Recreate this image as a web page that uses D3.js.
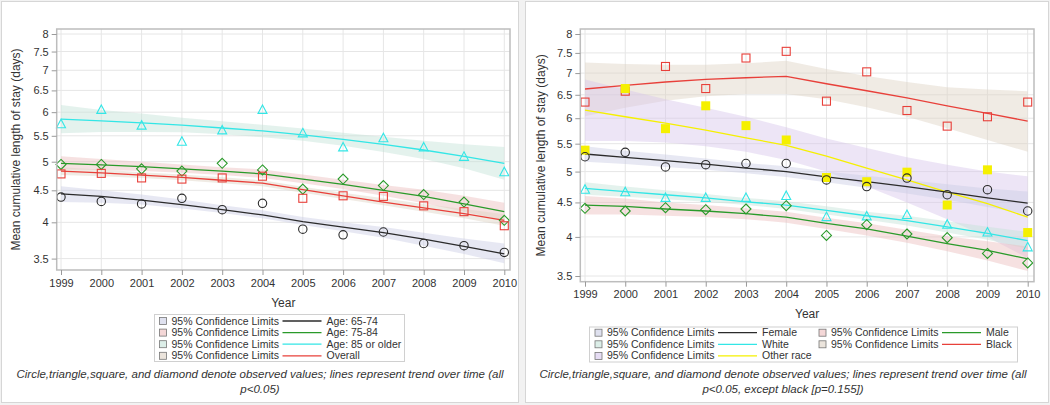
<!DOCTYPE html>
<html><head><meta charset="utf-8">
<script src="https://cdn.jsdelivr.net/npm/d3@7"></script>
<style>
body{margin:0;background:#fff;}
text{font-family:"Liberation Sans",Arial,sans-serif;fill:#333;}
</style></head>
<body><svg id="c" width="1050" height="405"></svg>
<script>
const years = [1999,2000,2001,2002,2003,2004,2005,2006,2007,2008,2009,2010];
const yTicks = [3.5,4,4.5,5,5.5,6,6.5,7,7.5,8];

// ---- Left panel: age groups ----
const age6574Obs = [4.39,4.32,4.28,4.37,4.19,4.29,3.90,3.82,3.86,3.70,3.67,3.58];
const age6574Fit = [4.44,4.40,4.34,4.27,4.19,4.11,4.01,3.93,3.85,3.76,3.66,3.56];
const age6574Lo  = [4.31,4.30,4.27,4.21,4.14,4.06,3.96,3.87,3.78,3.67,3.56,3.44];
const age6574Hi  = [4.57,4.50,4.43,4.35,4.26,4.18,4.08,4.00,3.93,3.85,3.77,3.70];

const age7584Obs = [4.95,4.95,4.87,4.83,4.97,4.85,4.52,4.69,4.58,4.43,4.31,4.03];
const age7584Fit = [4.97,4.94,4.91,4.87,4.83,4.78,4.69,4.60,4.50,4.40,4.28,4.16];
const age7584Lo  = [4.86,4.85,4.83,4.80,4.76,4.71,4.62,4.52,4.41,4.29,4.16,4.03];
const age7584Hi  = [5.10,5.05,5.00,4.95,4.90,4.86,4.77,4.68,4.59,4.51,4.41,4.30];

const age85Obs = [5.74,6.05,5.71,5.38,5.61,6.05,5.55,5.27,5.45,5.27,5.09,4.81];
const age85Fit = [5.85,5.81,5.77,5.72,5.66,5.60,5.52,5.43,5.33,5.22,5.10,4.97];
const age85Lo  = [5.55,5.58,5.58,5.57,5.53,5.47,5.40,5.30,5.18,5.05,4.88,4.68];
const age85Hi  = [6.16,6.05,5.97,5.88,5.80,5.73,5.65,5.56,5.48,5.40,5.33,5.28];

const overallObs = [4.78,4.79,4.71,4.69,4.71,4.74,4.37,4.41,4.40,4.25,4.16,3.95];
const overallFit = [4.83,4.80,4.76,4.72,4.67,4.62,4.51,4.41,4.31,4.22,4.13,4.03];
const overallLo  = [4.76,4.74,4.71,4.67,4.62,4.57,4.46,4.36,4.26,4.16,4.06,3.95];
const overallHi  = [4.90,4.86,4.81,4.77,4.72,4.67,4.56,4.46,4.37,4.28,4.20,4.12];

// ---- Right panel: sex and race ----
const femaleObs = [5.26,5.34,5.08,5.12,5.14,5.14,4.86,4.75,4.89,4.62,4.70,4.37];
const femaleFit = [5.31,5.25,5.19,5.13,5.06,5.00,4.91,4.83,4.75,4.66,4.57,4.49];
const femaleLo  = [5.17,5.13,5.08,5.03,4.97,4.91,4.82,4.73,4.64,4.54,4.43,4.32];
const femaleHi  = [5.45,5.37,5.30,5.23,5.15,5.09,5.00,4.93,4.86,4.79,4.72,4.67];

const maleObs = [4.41,4.37,4.42,4.39,4.40,4.45,4.02,4.17,4.04,3.99,3.78,3.66];
const maleFit = [4.46,4.44,4.40,4.37,4.33,4.28,4.19,4.11,4.01,3.91,3.82,3.71];
const maleLo  = [4.32,4.32,4.30,4.28,4.25,4.20,4.11,4.02,3.92,3.81,3.69,3.56];
const maleHi  = [4.60,4.56,4.50,4.46,4.41,4.36,4.27,4.19,4.10,4.01,3.94,3.87];

const whiteObs = [4.70,4.66,4.57,4.57,4.57,4.60,4.28,4.29,4.31,4.17,4.06,3.86];
const whiteFit = [4.72,4.67,4.62,4.57,4.51,4.46,4.38,4.30,4.23,4.14,4.05,3.95];
const whiteLo  = [4.62,4.59,4.55,4.51,4.46,4.40,4.32,4.24,4.16,4.06,3.96,3.84];
const whiteHi  = [4.82,4.75,4.69,4.63,4.57,4.52,4.44,4.36,4.30,4.22,4.14,4.07];

const blackObs = [6.34,6.58,7.16,6.64,7.37,7.54,6.36,7.03,6.16,5.84,6.03,6.34];
const blackFit = [6.63,6.71,6.79,6.85,6.89,6.92,6.75,6.59,6.43,6.26,6.10,5.94];
const blackLo  = [6.04,6.22,6.37,6.47,6.52,6.52,6.40,6.23,6.03,5.80,5.57,5.35];
const blackHi  = [7.26,7.22,7.20,7.20,7.24,7.30,7.10,6.93,6.79,6.67,6.62,6.58];

const otherObs = [5.38,6.64,5.79,6.26,5.85,5.57,4.90,4.83,4.99,4.46,5.03,4.06];
const otherFit = [6.17,6.03,5.90,5.76,5.61,5.47,5.27,5.06,4.86,4.66,4.48,4.28];
const otherLo  = [5.55,5.55,5.52,5.45,5.35,5.20,5.00,4.75,4.50,4.25,4.00,3.72];
const otherHi  = [6.85,6.62,6.40,6.22,6.03,5.82,5.60,5.42,5.25,5.12,5.00,4.92];

const leftLegend = ["Age: 65-74","Age: 75-84","Age: 85 or older","Overall"];
const rightLegend = ["Female","Male","White","Black","Other race"];
const ciLabel = "95% Confidence Limits";
const xTitle = "Year";
const yTitle = "Mean cumulative length of stay (days)";
const captionLeft = ["Circle,triangle,square, and diamond denote observed values; lines represent trend over time (all","p<0.05)"];
const captionRight = ["Circle,triangle,square, and diamond denote observed values; lines represent trend over time (all","p<0.05, except black [p=0.155])"];

// colours
const C = {
  dark:"#2b2b2b", green:"#2a9a2a", cyan:"#33e6e6", red:"#e8403a", yellow:"#f5f000",
  bBlue:"#c9cde4", bPink:"#ecbcbc", bGreen:"#c4e2d8", bBeige:"#ddd2c4", bLav:"#d6c6ec"
};
const bandOpacity = 0.45;

const svg = d3.select("#c");
svg.append("rect").attr("x",0).attr("y",0).attr("width",1050).attr("height",405).attr("fill","#f2f2f2");
[[1,1,517,401],[525,1,523,401]].forEach(p=>{
  svg.append("rect").attr("x",p[0]+0.5).attr("y",p[1]+0.5).attr("width",p[2]).attr("height",p[3])
    .attr("fill","#fff").attr("stroke","#d6d6d6");
});

function marker(g, type, x, y, color){
  if(type==="circle"){
    g.append("circle").attr("cx",x).attr("cy",y).attr("r",4.2).attr("fill","none").attr("stroke",color).attr("stroke-width",1.1);
  } else if(type==="tri"){
    g.append("path").attr("d",`M${x},${y-5}L${x+4.5},${y+3.5}L${x-4.5},${y+3.5}Z`).attr("fill","none").attr("stroke",color).attr("stroke-width",1.1);
  } else if(type==="sq"){
    g.append("rect").attr("x",x-4).attr("y",y-4).attr("width",8).attr("height",8).attr("fill","none").attr("stroke",color).attr("stroke-width",1.1);
  } else if(type==="dia"){
    g.append("path").attr("d",`M${x},${y-5}L${x+5},${y}L${x},${y+5}L${x-5},${y}Z`).attr("fill","none").attr("stroke",color).attr("stroke-width",1.1);
  } else if(type==="fsq"){
    g.append("rect").attr("x",x-4.5).attr("y",y-4.5).attr("width",9).attr("height",9).attr("fill",color);
  }
}

function panel(cfg){
  const g = svg.append("g");
  const x = d3.scaleLinear().domain([1999,2010]).range(cfg.xr);
  const y = d3.scaleLog().domain([3.5,8]).range(cfg.yr);
  const f = cfg.frame;
  g.selectAll(".gy").data(yTicks).join("line").attr("x1",f[0]).attr("x2",f[2])
    .attr("y1",d=>y(d)).attr("y2",d=>y(d)).attr("stroke","#e6e6e6");
  g.selectAll(".gx").data(years).join("line").attr("y1",f[1]).attr("y2",f[3])
    .attr("x1",d=>x(d)).attr("x2",d=>x(d)).attr("stroke","#e6e6e6");
  const area = d3.area().x((d,i)=>x(years[i])).y0(d=>y(d[0])).y1(d=>y(d[1]));
  cfg.series.forEach(s=>{
    g.append("path").datum(s.lo.map((v,i)=>[v,s.hi[i]])).attr("d",area)
      .attr("fill",s.band).attr("fill-opacity",bandOpacity);
  });
  const line = d3.line().x((d,i)=>x(years[i])).y(d=>y(d));
  cfg.series.forEach(s=>{
    g.append("path").datum(s.fit).attr("d",line).attr("fill","none").attr("stroke",s.color).attr("stroke-width",1.3);
  });
  cfg.series.forEach(s=>{
    s.obs.forEach((v,i)=>marker(g,s.marker,x(years[i]),y(v),s.color));
  });
  g.append("rect").attr("x",f[0]).attr("y",f[1]).attr("width",f[2]-f[0]).attr("height",f[3]-f[1])
    .attr("fill","none").attr("stroke","#bdbdbd").attr("stroke-width",1.5);
  const ax = g.append("g").attr("transform",`translate(0,${f[3]})`)
    .call(d3.axisBottom(x).tickValues(years).tickFormat(d3.format("d")).tickSize(5).tickPadding(4));
  const ay = g.append("g").attr("transform",`translate(${f[0]},0)`)
    .call(d3.axisLeft(y).tickValues(yTicks).tickFormat(d=>String(d)).tickSize(5).tickPadding(3));
  [ax,ay].forEach(a=>{
    a.select(".domain").remove();
    a.selectAll("line").attr("stroke","#9a9a9a");
    a.selectAll("text").style("font-size","11px").attr("fill","#333");
  });
  g.append("text").attr("x",(f[0]+f[2])/2).attr("y",cfg.xTitleY).attr("text-anchor","middle")
    .style("font-size","12px").text(xTitle);
  g.append("text").attr("transform",`translate(${cfg.yTitleX},${(f[1]+f[3])/2}) rotate(-90)`)
    .attr("text-anchor","middle").style("font-size","12px").text(yTitle);
  return g;
}

const leftSeries = [
  {obs:age6574Obs,fit:age6574Fit,lo:age6574Lo,hi:age6574Hi,color:C.dark,band:C.bBlue,marker:"circle"},
  {obs:age7584Obs,fit:age7584Fit,lo:age7584Lo,hi:age7584Hi,color:C.green,band:C.bPink,marker:"dia"},
  {obs:age85Obs,fit:age85Fit,lo:age85Lo,hi:age85Hi,color:C.cyan,band:C.bGreen,marker:"tri"},
  {obs:overallObs,fit:overallFit,lo:overallLo,hi:overallHi,color:C.red,band:C.bBeige,marker:"sq"}
];
panel({xr:[61,504.3], yr:[258.6,34], frame:[56.7,29,510,270], series:leftSeries, xTitleY:307, yTitleX:20});

const rightSeries = [
  {obs:blackObs,fit:blackFit,lo:blackLo,hi:blackHi,color:C.red,band:C.bBeige,marker:"sq"},
  {obs:otherObs,fit:otherFit,lo:otherLo,hi:otherHi,color:C.yellow,band:C.bLav,marker:"fsq"},
  {obs:femaleObs,fit:femaleFit,lo:femaleLo,hi:femaleHi,color:C.dark,band:C.bBlue,marker:"circle"},
  {obs:whiteObs,fit:whiteFit,lo:whiteLo,hi:whiteHi,color:C.cyan,band:C.bGreen,marker:"tri"},
  {obs:maleObs,fit:maleFit,lo:maleLo,hi:maleHi,color:C.green,band:C.bPink,marker:"dia"}
];
panel({xr:[585,1027.7], yr:[276,34], frame:[580.3,29,1034,281.7], series:rightSeries, xTitleY:318, yTitleX:545});

function legendItem(g, x, y, label, color, band){
  g.append("rect").attr("x",x).attr("y",y-3.5).attr("width",7).attr("height",7)
    .attr("fill",band).attr("fill-opacity",0.6).attr("stroke","#777").attr("stroke-width",0.8);
  g.append("text").attr("x",x+12).attr("y",y+3.5).style("font-size","10.5px").text(ciLabel);
  g.append("line").attr("x1",x+123).attr("x2",x+162).attr("y1",y).attr("y2",y).attr("stroke",color).attr("stroke-width",1.3);
  g.append("text").attr("x",x+167).attr("y",y+3.5).style("font-size","10.5px").text(label);
}
const lg = svg.append("g");
lg.append("rect").attr("x",154.5).attr("y",314.5).attr("width",250).attr("height",47).attr("fill","#fff").attr("stroke","#d0d0d0");
const leftCols = [[C.dark,C.bBlue],[C.green,C.bPink],[C.cyan,C.bGreen],[C.red,C.bBeige]];
leftLegend.forEach((l,i)=>legendItem(lg,159.5,321+i*11.6,l,leftCols[i][0],leftCols[i][1]));

const rg = svg.append("g");
rg.append("rect").attr("x",589.5).attr("y",327).attr("width",428).attr("height",35).attr("fill","#fff").attr("stroke","#d0d0d0");
const rightCols = {"Female":[C.dark,C.bBlue],"Male":[C.green,C.bPink],"White":[C.cyan,C.bGreen],"Black":[C.red,C.bBeige],"Other race":[C.yellow,C.bLav]};
rightLegend.forEach((l,i)=>{
  const col = i%2, row = Math.floor(i/2);
  legendItem(rg, col===0?595:819, 332.7+row*11.6, l, rightCols[l][0], rightCols[l][1]);
});

function caption(lines, cx){
  lines.forEach((t,i)=>svg.append("text").attr("x",cx).attr("y",378+i*15.3).attr("text-anchor","middle")
    .style("font-size","11.5px").style("font-style","italic").attr("fill","#111").text(t));
}
caption(captionLeft, 260);
caption(captionRight, 783);
</script></body></html>
